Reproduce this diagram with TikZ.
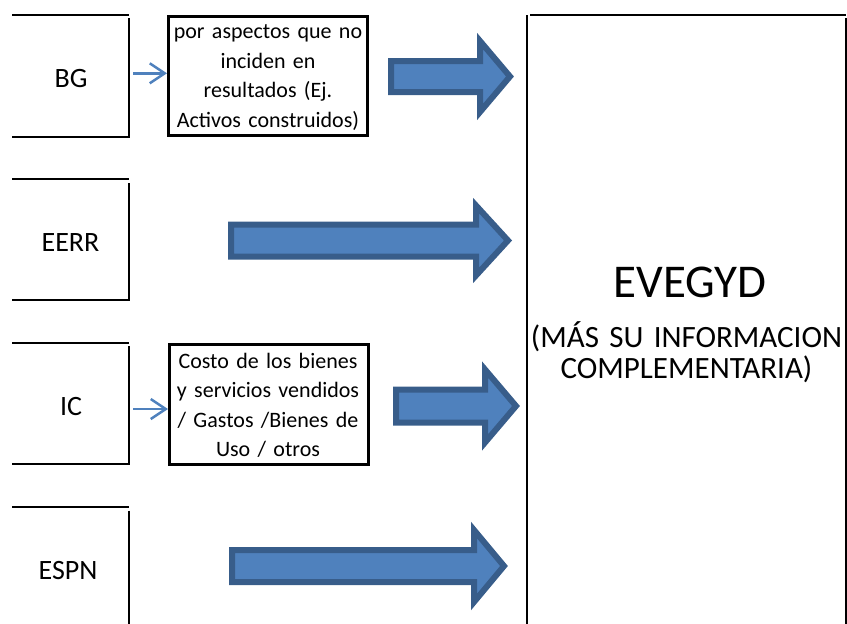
\documentclass[tikz,border=0pt]{standalone}
\usepackage{fontspec}
\setmainfont{Carlito}
\usetikzlibrary{arrows.meta}
\definecolor{accent}{HTML}{4F81BD}
\definecolor{accentdark}{HTML}{385D8A}
\newcommand\myblockarrow[6]{% x0 xh x1 yc s h
  \draw[blockarrow] (#1,#4-#5) -- (#2,#4-#5) -- (#2,#4-#6) -- (#3,#4) -- (#2,#4+#6) -- (#2,#4+#5) -- (#1,#4+#5) -- cycle;}
\begin{document}
\begin{tikzpicture}[x=1pt,y=-1pt,
  leftline/.style={line width=2pt, black},
  smallbox/.style={draw, line width=3pt, minimum width=199pt, minimum height=119pt, inner sep=0pt},
  smalltext/.style={font=\fontsize{22}{29.5}\selectfont, align=center, text width=200pt, anchor=base, inner sep=0pt},
  lbl/.style={font=\fontsize{28}{32}\selectfont, anchor=base, inner sep=0pt},
  thinarrow/.style={accent, line width=2.5pt, -{Straight Barb[length=15pt,width=20pt,line width=2.5pt]}},
  blockarrow/.style={fill=accent, draw=accentdark, line width=6pt, line join=miter}]
\useasboundingbox (0,0) rectangle (847,624);

% left boxes (top, right, bottom)
\draw[leftline] (12,15.3) -- (129,15.3);
\draw[leftline] (128.5,18) -- (128.5,137) -- (12,137);
\draw[leftline] (12,179) -- (129,179);
\draw[leftline] (128.5,183) -- (128.5,300) -- (12,300);
\draw[leftline] (12,342.7) -- (129,342.7);
\draw[leftline] (128.5,346) -- (128.5,464.3) -- (12,464.3);
\draw[leftline] (12,506.7) -- (129,506.7);
\draw[leftline] (128.5,510.7) -- (128.5,624);

\node[lbl] (bg) at (71,87.3) {BG};
\node[lbl] (eerr) at (70.5,251) {EERR};
\node[lbl] (ic) at (71,415) {IC};
\node[lbl] (espn) at (68,579) {ESPN};

% small boxes
\node[smallbox] (sb1) at (268,76) {};
\node[smallbox, minimum height=120pt] (sb2) at (269,404.5) {};
\node[smalltext] (t1) at (268,38.5) {por aspectos que no\\inciden en\\resultados (Ej.\\Activos construidos)};
\node[smalltext] (t2) at (268,368) {Costo de los bienes\\y servicios vendidos\\/ Gastos /Bienes de\\Uso / otros};

\coordinate (c1) at (133,73.3);
\coordinate (c2) at (133,409);
\draw[thinarrow] (c1) -- (c1 -| sb1.west);
\draw[thinarrow] (c2) -- (c2 -| sb2.west);

% block arrows
\myblockarrow{391}{480}{510}{76.5}{15.5}{35.5}
\myblockarrow{231}{476}{508}{240.5}{16}{35}
\myblockarrow{396}{485}{516}{406}{16.5}{36.5}
\myblockarrow{232}{474}{504}{566}{16}{36}

% big box
\draw[leftline] (527,15.3) -- (527,624);
\draw[leftline] (530,15.3) -- (846,15.3);
\draw[leftline] (845.7,18) -- (845.7,624);

\node[font=\fontsize{47}{54}\selectfont, anchor=base, inner sep=0pt] (title) at (690,297) {EVEGYD};
\node[font=\fontsize{31}{31}\selectfont, anchor=base, inner sep=0pt, align=center, text width=319pt] (sub) at (686.5,347) {(MÁS SU INFORMACION\\COMPLEMENTARIA)};
\end{tikzpicture}
\end{document}
